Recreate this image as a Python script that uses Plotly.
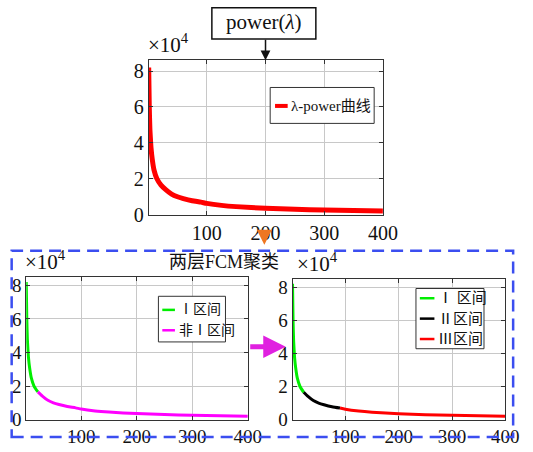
import plotly.graph_objects as go

# ---------------- data (power in units of 1e4) ----------------
lam = [1, 2, 3, 4, 5, 7, 10, 15, 22, 30, 40, 50, 60, 75, 90, 100, 125, 150, 200, 250, 300, 350, 400]
power_e4 = [8.2, 6.0, 4.8, 4.2, 3.7, 3.1, 2.5, 2.0, 1.65, 1.4, 1.15, 1.0, 0.9, 0.78, 0.7, 0.63,
            0.52, 0.45, 0.36, 0.3, 0.26, 0.23, 0.2]
split_I = 22      # end of interval I
split_II = 90     # end of interval II

x_ticks = [100, 200, 300, 400]
y_ticks = [0, 2, 4, 6, 8]

title_box = "power(<i>λ</i>)"
cluster_title = "两层FCM聚类"
scale_label = "×10<sup>4</sup>"
legend_top = ["λ-power曲线"]
legend_left = ["Ⅰ区间", "非Ⅰ区间"]
legend_right = ["Ⅰ 区间", "Ⅱ区间", "Ⅲ区间"]

RED, GREEN, MAG, BLACK = "#ff0000", "#00ee00", "#ff00ff", "#000000"

W, H = 533, 452
def px(v):
    return v / W
def py(v):
    return 1 - v / H

def seg(lo, hi):
    xs = [a for a in lam if lo <= a <= hi]
    ys = [b for a, b in zip(lam, power_e4) if lo <= a <= hi]
    return xs, ys

FONT = "Liberation Serif, Noto Sans CJK SC, serif"
TICKFONT = "Liberation Serif"

fig = go.Figure()

# top chart
fig.add_trace(go.Scatter(x=lam, y=power_e4, mode="lines", line=dict(color=RED, width=5, shape="spline", smoothing=0.6),
                         xaxis="x", yaxis="y", showlegend=False))
# bottom left
for (lo, hi), c in zip([(1, split_I), (split_I, 400)], [GREEN, MAG]):
    xs, ys = seg(lo, hi)
    fig.add_trace(go.Scatter(x=xs, y=ys, mode="lines", line=dict(color=c, width=3, shape="spline", smoothing=0.6),
                             xaxis="x2", yaxis="y2", showlegend=False))
# bottom right
for (lo, hi), c in zip([(1, split_I), (split_I, split_II), (split_II, 400)], [GREEN, BLACK, RED]):
    xs, ys = seg(lo, hi)
    fig.add_trace(go.Scatter(x=xs, y=ys, mode="lines", line=dict(color=c, width=3, shape="spline", smoothing=0.6),
                             xaxis="x3", yaxis="y3", showlegend=False))

def xax(dom, anchor, size):
    return dict(domain=dom, anchor=anchor, range=[1, 400], tickvals=x_ticks, showgrid=True, gridcolor="#c8c8c8",
                gridwidth=1, zeroline=False, showline=True, linecolor="#333", linewidth=1, mirror="ticks",
                ticks="inside", ticklen=4, tickcolor="#333", tickfont=dict(family=TICKFONT, size=size, color="#111"))

def yax(dom, anchor, top, size):
    return dict(domain=dom, anchor=anchor, range=[0, top], tickvals=y_ticks, showgrid=True, gridcolor="#c8c8c8",
                gridwidth=1, zeroline=False, showline=True, linecolor="#333", linewidth=1, mirror="ticks",
                ticks="inside", ticklen=4, tickcolor="#333", tickfont=dict(family=TICKFONT, size=size, color="#111"))

fig.update_layout(
    width=W, height=H, autosize=False, margin=dict(l=0, r=0, t=0, b=0),
    paper_bgcolor="white", plot_bgcolor="white", showlegend=False,
    font=dict(family=FONT, color="#111"),
    xaxis=xax([px(153), px(394)], "y", 20),
    yaxis=yax([py(219), py(60)], "x", 8.6, 20),
    xaxis2=xax([px(27), px(255)], "y2", 19),
    yaxis2=yax([py(430), py(283)], "x2", 8.5, 19),
    xaxis3=xax([px(301), px(520)], "y3", 19),
    yaxis3=yax([py(430), py(285)], "x3", 8.5, 19),
)

shapes = []
annos = []

# power(λ) box
shapes.append(dict(type="rect", xref="paper", yref="paper", x0=px(218), x1=px(325), y0=py(38), y1=py(6),
                   line=dict(color="#111", width=1.5)))
annos.append(dict(text=title_box, xref="paper", yref="paper", x=px(271.5), y=py(21), showarrow=False,
                  font=dict(family=FONT, size=21, color="#111"), xanchor="center", yanchor="middle"))
# black arrow to top chart
annos.append(dict(text="", xref="x", yref="paper", x=200, y=py(60), ax=0, ay=-22, showarrow=True,
                  arrowhead=2, arrowsize=1.3, arrowwidth=1.5, arrowcolor="#111"))
# orange arrow
annos.append(dict(text="", xref="paper", yref="paper", x=px(272), y=py(250), ax=0, ay=-16, showarrow=True,
                  arrowhead=2, arrowsize=1.0, arrowwidth=3, arrowcolor="#ee7722"))
# magenta arrow
annos.append(dict(text="", xref="paper", yref="paper", x=px(294), y=py(355), ax=-37, ay=0, showarrow=True,
                  arrowhead=2, arrowsize=0.9, arrowwidth=5, arrowcolor="#e020e0"))
# dashed cluster box
shapes.append(dict(type="rect", xref="paper", yref="paper", x0=px(12), x1=px(528), y0=py(448), y1=py(256),
                   line=dict(color="#3b4ef0", width=2.5, dash="12px,7px")))
annos.append(dict(text=cluster_title, xref="paper", yref="paper", x=px(230), y=py(268), showarrow=False,
                  font=dict(family=FONT, size=18, color="#111"), xanchor="center", yanchor="middle"))
# ×10^4 labels
for xl, yb in [(150, 59), (24, 282), (304, 284)]:
    annos.append(dict(text=scale_label, xref="paper", yref="paper", x=px(xl), y=py(yb), showarrow=False,
                      font=dict(family=TICKFONT, size=21, color="#111"), xanchor="left", yanchor="bottom"))

# manual legends
def legend(box, entries, colors, ys, lx0, lx1, tx, size, lw):
    shapes.append(dict(type="rect", xref="paper", yref="paper", x0=px(box[0]), x1=px(box[2]), y0=py(box[3]),
                       y1=py(box[1]), line=dict(color="#333", width=1), fillcolor="white", layer="above"))
    for name, c, yy in zip(entries, colors, ys):
        shapes.append(dict(type="line", xref="paper", yref="paper", x0=px(lx0), x1=px(lx1), y0=py(yy), y1=py(yy),
                           line=dict(color=c, width=lw), layer="above"))
        annos.append(dict(text=name, xref="paper", yref="paper", x=px(tx), y=py(yy), showarrow=False,
                          font=dict(family=FONT, size=size, color="#111"), xanchor="left", yanchor="middle"))

legend((278, 88, 385, 125), legend_top, [RED], [107], 283, 296, 297, 15, 4)
legend((163, 303, 232, 350), legend_left, [GREEN, MAG], [317, 338], 167, 180, 182, 14, 2.5)
legend((428, 295, 498, 357), legend_right, [GREEN, BLACK, RED], [305, 326, 347], 432, 447, 449, 15, 2.5)

fig.update_layout(shapes=shapes, annotations=annos)
fig.write_html("out.html")
